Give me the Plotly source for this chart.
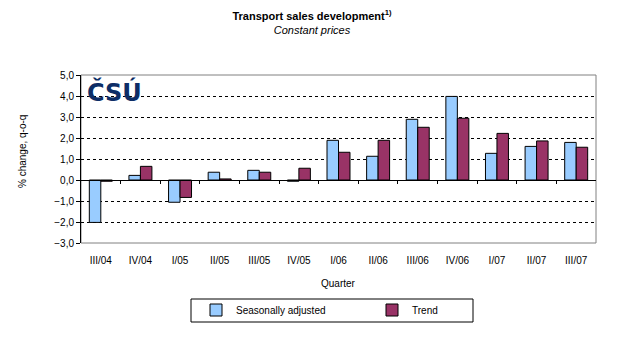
import plotly.graph_objects as go

quarters = ["III/04", "IV/04", "I/05", "II/05", "III/05", "IV/05", "I/06",
            "II/06", "III/06", "IV/06", "I/07", "II/07", "III/07"]
seasonally_adjusted = [-2.02, 0.22, -1.06, 0.37, 0.46, -0.06, 1.89,
                       1.13, 2.89, 3.98, 1.27, 1.60, 1.79]
trend = [-0.06, 0.65, -0.83, 0.05, 0.37, 0.56, 1.32,
         1.89, 2.51, 2.94, 2.22, 1.86, 1.56]
y_ticks = [-3, -2, -1, 0, 1, 2, 3, 4, 5]

FONT = "Arial, Liberation Sans, sans-serif"
SA_COLOR = "#99CCFF"
TREND_COLOR = "#993366"

fig = go.Figure()
fig.add_trace(go.Bar(x=quarters, y=seasonally_adjusted, name="Seasonally adjusted",
                     marker=dict(color=SA_COLOR, line=dict(color="black", width=1))))
fig.add_trace(go.Bar(x=quarters, y=trend, name="Trend",
                     marker=dict(color=TREND_COLOR, line=dict(color="black", width=1))))

# invisible helper trace so the category-boundary axis on the zero line renders
boundaries = [i + 0.5 for i in range(len(quarters) - 1)]
fig.add_trace(go.Scatter(x=boundaries, y=[0] * len(boundaries), xaxis="x2",
                         mode="markers", marker=dict(opacity=0), showlegend=False,
                         hoverinfo="skip"))

fig.update_layout(
    width=624, height=361,
    margin=dict(l=81, r=28, t=75, b=118),
    paper_bgcolor="white", plot_bgcolor="white",
    separators=", ",
    font=dict(family=FONT, size=10, color="black"),
    barmode="group", bargap=0.42, bargroupgap=0,
    title=dict(text="<b>Transport sales development<sup>1)</sup></b><br><i>Constant prices</i>",
               x=0.5, xref="container", y=1 - 20 / 361, yref="container", yanchor="top",
               font=dict(family=FONT, size=11, color="black")),
    xaxis=dict(type="category", range=[-0.5, len(quarters) - 0.5], showgrid=False,
               showline=False, ticks="", ticklabelstandoff=10,
               tickfont=dict(size=10, color="black")),
    xaxis2=dict(overlaying="x", anchor="free", position=3 / 8,
                range=[-0.5, len(quarters) - 0.5], tickmode="array", tickvals=boundaries,
                ticks="outside", ticklen=3, tickcolor="black", showticklabels=False,
                showline=True, linecolor="black", linewidth=1, showgrid=False,
                zeroline=False),
    yaxis=dict(range=[-3, 5], tickmode="array", tickvals=y_ticks, tickformat=".1f",
               showgrid=True, gridcolor="black", gridwidth=1, griddash="3px,3px",
               zeroline=True, zerolinecolor="black", zerolinewidth=1,
               showline=True, linecolor="black", linewidth=1,
               ticks="outside", ticklen=4, tickcolor="black",
               tickfont=dict(size=10, color="black")),
    showlegend=True,
    legend=dict(orientation="h", x=(196 - 81) / 515, xanchor="left",
                y=(243 - 310) / 168, yanchor="middle",
                entrywidth=131, entrywidthmode="pixels",
                bgcolor="rgba(0,0,0,0)", borderwidth=0,
                font=dict(size=10, color="black")),
    shapes=[
        dict(type="rect", xref="paper", yref="paper", x0=0, x1=1, y0=0, y1=1,
             line=dict(color="#808080", width=1), layer="below"),
        dict(type="rect", xref="paper", yref="paper",
             x0=(191 - 81) / 515, x1=(473 - 81) / 515,
             y0=(243 - 322) / 168, y1=(243 - 299) / 168,
             line=dict(color="black", width=1)),
    ],
    annotations=[
        dict(text="% change, q-o-q", textangle=-90, xref="paper", yref="paper",
             x=(22 - 81) / 515, y=(243 - 152) / 168, showarrow=False,
             xanchor="center", yanchor="middle", font=dict(size=10, color="black")),
        dict(text="Quarter", xref="paper", yref="paper", x=0.5, y=(243 - 283) / 168,
             showarrow=False, xanchor="center", yanchor="middle",
             font=dict(size=10, color="black")),
        dict(text="<b>ČSÚ</b>", xref="paper", yref="paper", x=(85 - 81) / 515,
             y=(243 - 75) / 168, showarrow=False, xanchor="left", yanchor="top",
             font=dict(family="DejaVu Sans, sans-serif", size=24, color="#0d2d66")),
    ],
)

fig.write_html("out.html", config={"displayModeBar": False},
               post_script="document.body.style.margin='0';")
